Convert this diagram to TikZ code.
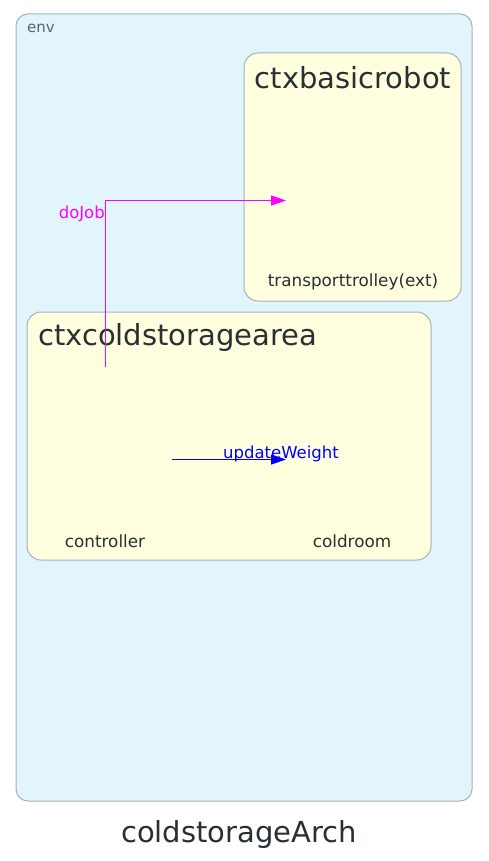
\documentclass[tikz,border=0pt]{standalone}
\usepackage{fontspec}
\setmainfont{DejaVu Sans}
\usetikzlibrary{arrows.meta}
\definecolor{envfill}{RGB}{226,244,252}
\definecolor{ctxfill}{RGB}{255,255,224}
\definecolor{boxline}{RGB}{166,176,186}
\definecolor{txt}{RGB}{40,48,52}
\definecolor{mag}{RGB}{255,0,255}
\definecolor{blu}{RGB}{0,0,255}
\begin{document}
\begin{tikzpicture}[x=1pt,y=-1pt,
  envbox/.style={draw=boxline,fill=envfill,rounded corners=12pt,line width=1pt},
  ctxbox/.style={draw=boxline,fill=ctxfill,rounded corners=14pt,line width=1pt},
  bigtitle/.style={font=\fontsize{29}{34}\selectfont,text=txt,inner sep=0pt},
  actor/.style={font=\fontsize{16.8}{20}\selectfont,text=txt,inner sep=0pt},
  msg/.style={font=\fontsize{16.5}{20}\selectfont,inner sep=0pt},
  arr/.style={line width=1.2pt,-{Triangle[length=15pt,width=10pt]}}]
\useasboundingbox (0,0) rectangle (489,861);
\fill[white] (0,0) rectangle (489,861);
\draw[envbox] (16,14) rectangle (472,801);
\node[anchor=west,font=\fontsize{15}{18}\selectfont,text=txt!75,inner sep=0pt] (envlbl) at (27,28) {env};
% ctxbasicrobot
\draw[ctxbox] (244,53) rectangle (461,301);
\node[bigtitle] (robottitle) at (353,78) {ctxbasicrobot};
\node[actor] (trolley) at (353,282) {transporttrolley(ext)};
\coordinate (trolleyin) at (286,200.5);
% ctxcoldstoragearea
\draw[ctxbox] (27,312) rectangle (431,560);
\node[bigtitle,anchor=west] (areatitle) at (38,337) {ctxcoldstoragearea};
\node[actor] (controller) at (105,541) {controller};
\node[actor] (coldroom) at (352,541) {coldroom};
\coordinate (ctrlout) at (105.5,367);
\coordinate (ctrlout2) at (172,459.5);
\coordinate (coldin) at (286,459.5);
% arrows
\draw[arr,mag] (ctrlout) |- (trolleyin);
\node[msg,text=mag,anchor=east] (dojob) at (105,214) {doJob};
\draw[arr,blu] (ctrlout2) -- (coldin);
\node[msg,text=blu] (upw) at (281,454) {updateWeight};
% title
\node[bigtitle] (archtitle) at (239,834) {coldstorageArch};
\end{tikzpicture}
\end{document}
